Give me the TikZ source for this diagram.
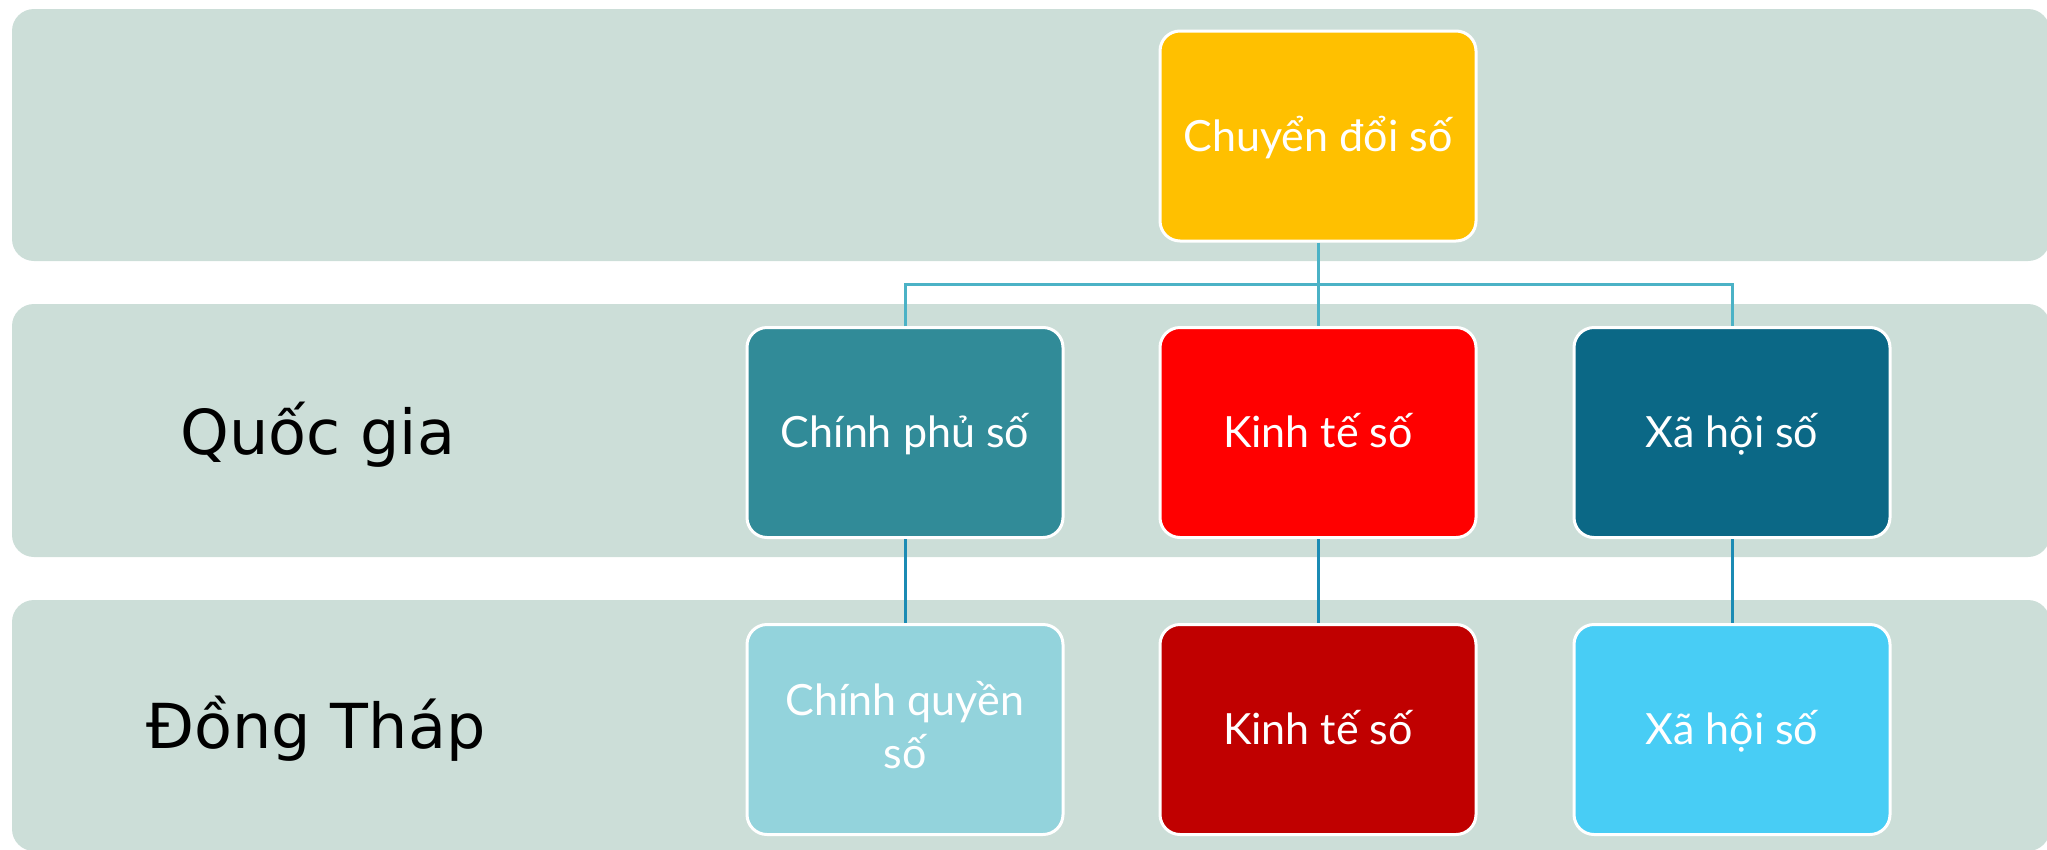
\documentclass[tikz,border=0pt]{standalone}
\usepackage{fontspec}
\setmainfont{Lato}
\newfontfamily\labelfont{DejaVu Sans}
\definecolor{bandc}{RGB}{204,222,216}
\definecolor{topc}{RGB}{255,192,0}
\definecolor{cpc}{RGB}{49,139,152}
\definecolor{ktc}{RGB}{255,0,0}
\definecolor{xhc}{RGB}{11,104,134}
\definecolor{cqc}{RGB}{147,211,220}
\definecolor{ktdc}{RGB}{192,0,0}
\definecolor{xhdc}{RGB}{72,205,245}
\definecolor{connA}{RGB}{75,178,198}
\definecolor{connB}{RGB}{27,139,180}
\begin{document}
\begin{tikzpicture}[x=1pt,y=-1pt,
  band/.style={fill=bandc, rounded corners=22pt},
  orgbox/.style={draw=white, line width=3pt, rounded corners=20pt, minimum width=316pt, minimum height=210pt, inner sep=0pt},
  boxtext/.style={anchor=base, text=white, inner sep=0pt, font=\fontsize{43}{54}\selectfont},
  rowlabel/.style={anchor=base, text=black, inner sep=0pt, font=\labelfont\fontsize{62}{76}\selectfont},
  linkA/.style={draw=connA, line width=3pt},
  linkB/.style={draw=connB, line width=3pt}]
\useasboundingbox (0,0) rectangle (2047,849);
% bands
\path[band] (12,9) rectangle (2050,261);
\path[band] (12,304) rectangle (2050,557);
\path[band] (12,600) rectangle (2050,851);
% boxes
\coordinate (bar) at (0,284);
\node[orgbox, fill=topc] (top) at (1318,136) {};
\node[orgbox, fill=cpc] (b1) at (905,432.5) {};
\node[orgbox, fill=ktc] (b2) at (1318,432.5) {};
\node[orgbox, fill=xhc] (b3) at (1732,432.5) {};
\node[orgbox, fill=cqc] (d1) at (905,729.5) {};
\node[orgbox, fill=ktdc] (d2) at (1318,729.5) {};
\node[orgbox, fill=xhdc] (d3) at (1732,729.5) {};
% connectors
\draw[linkA] (b1.north) -- (b1.north |- bar) -- (b3.north |- bar) -- (b3.north);
\draw[linkA] (top.south) -- (b2.north);
\draw[linkB] (b1.south) -- (d1.north);
\draw[linkB] (b2.south) -- (d2.north);
\draw[linkB] (b3.south) -- (d3.north);
% box texts
\node[boxtext] (ttop) at ([yshift=-15pt]top.center) {Chuyển đổi số};
\node[boxtext] (tb1) at ([yshift=-15pt]b1.center) {Chính phủ số};
\node[boxtext] (tb2) at ([yshift=-15pt]b2.center) {Kinh tế số};
\node[boxtext] (tb3) at ([yshift=-15pt]b3.center) {Xã hội số};
\node[boxtext] (td1a) at ([yshift=14.5pt]d1.center) {Chính quyền};
\node[boxtext] (td1b) at ([yshift=-38.5pt]d1.center) {số};
\node[boxtext] (td2) at ([yshift=-15pt]d2.center) {Kinh tế số};
\node[boxtext] (td3) at ([yshift=-15pt]d3.center) {Xã hội số};
% row labels
\node[rowlabel] (lq) at (318,454) {Quốc gia};
\node[rowlabel] (ld) at (316,748) {Đồng Tháp};
\end{tikzpicture}
\end{document}
